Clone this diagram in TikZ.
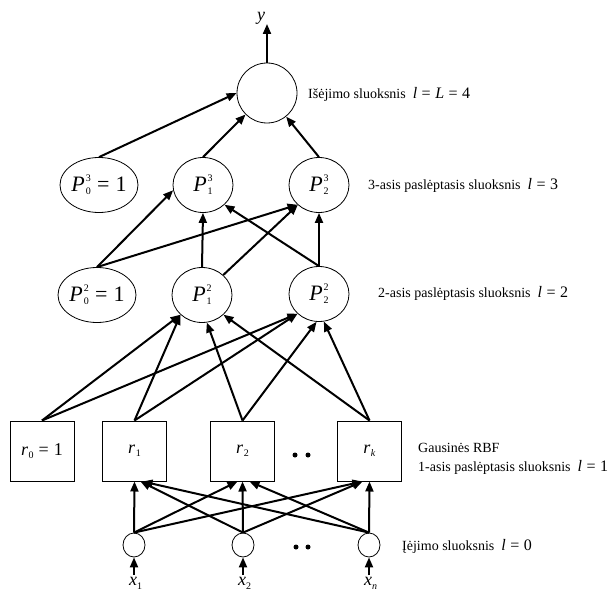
\documentclass[tikz,border=0pt]{standalone}
\usepackage{fontspec}
\setmainfont{Liberation Serif}
\usetikzlibrary{arrows.meta,shapes.geometric}

% small script digits and the equation parts of the layer captions
\newcommand{\scr}[1]{{\fontsize{10}{10}\selectfont #1}}
\newcommand{\eqs}{\hspace{0.28em}=\hspace{0.28em}}
\newcommand{\mth}[1]{{\fontsize{16}{16}\selectfont #1}}
\newcommand{\Pnode}[2]{\textit{P}\kern1pt\rlap{\raisebox{10pt}{\scr{#1}}}\raisebox{-3pt}{\scr{#2}}}
\newcommand{\rsub}[1]{\textit{r}\kern0.5pt\raisebox{-3pt}{\scr{#1}}}

\tikzset{
  arr/.style={line width=2pt, -{Triangle[length=10pt,width=8pt]}},
  neuron/.style={draw, line width=0.8pt, ellipse, minimum width=60pt, minimum height=55pt,
                 inner sep=0pt, font=\fontsize{22}{22}\selectfont},
  outneuron/.style={neuron, minimum height=60pt},
  rbf/.style={draw, line width=1pt, rectangle, minimum width=64pt, minimum height=60pt,
              inner sep=0pt, font=\fontsize{18}{18}\selectfont},
  inp/.style={draw, line width=0.8pt, ellipse, minimum width=22pt, minimum height=24pt, inner sep=0pt},
  caption/.style={anchor=base west, inner sep=0pt, font=\fontsize{14}{17}\selectfont},
  smalldot/.style={circle, fill, inner sep=0pt, minimum size=5pt},
  varlabel/.style={anchor=base west, inner sep=0pt, font=\fontsize{18}{18}\selectfont}
}

\begin{document}
\begin{tikzpicture}[x=1pt, y=-1pt]
\useasboundingbox (0,0) rectangle (610,591);

% output layer
\node[outneuron] (out) at (267,93) {};
\coordinate (ytip) at (267,24);
\node[varlabel] (ylab) at (257,21) {\textit{y}};

% third layer
\node[neuron] (P03) at (99,185) {\Pnode{3}{0}\eqs 1};
\node[neuron] (P13) at (203,185) {\Pnode{3}{1}};
\node[neuron] (P23) at (319,185) {\Pnode{3}{2}};

% second layer
\node[neuron] (P02) at (97,295) {\Pnode{2}{0}\eqs 1};
\node[neuron] (P12) at (202,295) {\Pnode{2}{1}};
\node[neuron] (P22) at (319,294) {\Pnode{2}{2}};

% Gaussian RBF layer
\node[rbf] (r0) at (42,451) {\rsub{0}\eqs 1};
\node[rbf] (r1) at (134.5,451) {\rsub{1}};
\node[rbf] (r2) at (242.5,451) {\rsub{2}};
\node[rbf] (rk) at (369.5,451) {\rsub{\textit{k}}};
\node[smalldot] (rd1) at (295,455) {};
\node[smalldot] (rd2) at (308,455) {};

% input layer
\node[inp] (in1) at (134,545) {};
\node[inp] (in2) at (243,545) {};
\node[inp] (inn) at (369,545) {};
\node[smalldot] (id1) at (296,547) {};
\node[smalldot] (id2) at (308,547) {};
\coordinate (b1) at (134,575);
\coordinate (b2) at (243,575);
\coordinate (bn) at (369,575);
\node[varlabel] (x1) at (129,585) {\textit{x}\raisebox{-4pt}{\scr{1}}};
\node[varlabel] (x2) at (238,585) {\textit{x}\raisebox{-4pt}{\scr{2}}};
\node[varlabel] (xn) at (364,585) {\textit{x}\raisebox{-4pt}{\scr{\textit{n}}}};

% layer captions
\node[caption] (c4) at (308,99) {Išėjimo sluoksnis\hspace{0.5em}\mth{\textit{l}\eqs\textit{L}\eqs 4}};
\node[caption] (c3) at (368,189) {3-asis paslėptasis sluoksnis\hspace{0.5em}\mth{\textit{l}\eqs 3}};
\node[caption] (c2) at (378,297) {2-asis paslėptasis sluoksnis\hspace{0.5em}\mth{\textit{l}\eqs 2}};
\node[caption] (c1a) at (418,452) {Gausinės RBF};
\node[caption] (c1b) at (418,471) {1-asis paslėptasis sluoksnis\hspace{0.5em}\mth{\textit{l}\eqs 1}};
\node[caption] (c0) at (402,550) {Įėjimo sluoksnis\hspace{0.5em}\mth{\textit{l}\eqs 0}};

% output
\draw[arr] (out.north) -- (ytip);
\draw[arr] (P03.north) -- (out.west);
\draw[arr] (P13.north) -- (out);
\draw[arr] (P23.north) -- (out);

% second -> third layer
\draw[arr] (P02.north) -- (P13.190);
\draw[arr] (P02.north) -- (P23.south west);
\draw[arr] (P12.north) -- (P13.south);
\draw[arr] (P12) -- (P23);
\draw[arr] (P22.north) -- (P13.south east);
\draw[arr] (P22.north) -- (P23.south);

% RBF -> second layer
\draw[arr] (r0.north) -- (P12.south west);
\draw[arr] (r1.north) -- (P12.south west);
\draw[arr] (r2.north) -- (P12.280);
\draw[arr] (rk.north) -- (P12.south east);
\draw[arr] (r0.north) -- (P22.south west);
\draw[arr] (r1.north) -- (P22.south west);
\draw[arr] (r2.north) -- (P22.265);
\draw[arr] (rk.north) -- (P22.280);

% inputs -> RBF layer
\draw[arr] (in1.north) -- (r1.south);
\draw[arr] (in1.north) -- ([xshift=-5pt]r2.south);
\draw[arr] (in1.north) -- ([xshift=-7pt]rk.south);
\draw[arr] (in2.north) -- ([xshift=6pt]r1.south);
\draw[arr] (in2.north) -- (r2.south);
\draw[arr] (in2.north) -- ([xshift=-7pt]rk.south);
\draw[arr] (inn.north) -- ([xshift=8pt]r1.south);
\draw[arr] (inn.north) -- ([xshift=7pt]r2.south);
\draw[arr] (inn.north) -- (rk.south);

% input signals
\draw[arr] (b1) -- (in1.south);
\draw[arr] (b2) -- (in2.south);
\draw[arr] (bn) -- (inn.south);
\end{tikzpicture}
\end{document}
